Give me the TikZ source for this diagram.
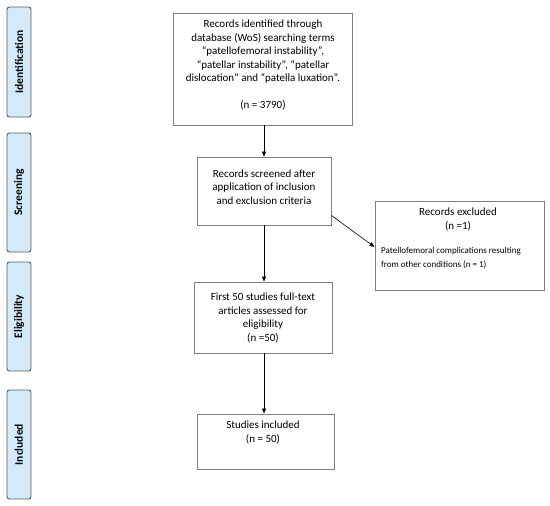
\documentclass[tikz,border=0pt]{standalone}
\usepackage{fontspec}
\setmainfont{Carlito}
\usetikzlibrary{arrows.meta}
\definecolor{sidefill}{HTML}{D3EAFA}
\definecolor{sideline}{HTML}{5A5A5A}
\definecolor{boxline}{HTML}{7F7F7F}
\begin{document}
\begin{tikzpicture}[x=1pt,y=-1pt,
  sidebar/.style={draw=sideline,fill=sidefill,rounded corners=2.5pt,line width=0.9pt,minimum width=24pt,inner sep=0pt},
  sidetext/.style={rotate=90,font=\fontsize{11.5}{13}\selectfont\bfseries,inner sep=0pt},
  flowbox/.style={draw=boxline,line width=0.9pt,inner sep=0pt},
  flowtext/.style={font=\fontsize{11}{13.5}\selectfont,align=center,inner sep=0pt},
  smalltext/.style={font=\fontsize{9}{14}\selectfont,align=left,inner sep=0pt},
  arr/.style={draw=black,line width=0.6pt,-{Triangle[length=5pt,width=4pt]}}]
\useasboundingbox (0,0) rectangle (550,506);
% side bars
\node[sidebar,minimum height=110pt] (s1) at (19,62) {};
\node[sidetext] (t1) at (s1.center) {Identification};
\node[sidebar,minimum height=119pt] (s2) at (19,192.5) {};
\node[sidetext] (t2) at (s2.center) {Screening};
\node[sidebar,minimum height=109pt] (s3) at (19,316.5) {};
\node[sidetext] (t3) at (s3.center) {Eligibility};
\node[sidebar,minimum height=109pt] (s4) at (19,444.5) {};
\node[sidetext] (t4) at (s4.center) {Included};
% boxes
\node[flowbox,minimum width=179pt,minimum height=112pt] (b1) at (262.5,69) {};
\node[flowtext,anchor=north] (b1t) at (263,20) {Records identified through\\database (WoS) searching terms\\“patellofemoral instability”,\\“patellar instability”, “patellar\\dislocation” and “patella luxation”.\\[13.5pt](n = 3790)};
\node[flowbox,minimum width=134pt,minimum height=68pt] (b2) at (264,191) {};
\node[flowtext] (b2t) at (264,187) {Records screened after\\application of inclusion\\and exclusion criteria};
\node[flowbox,minimum width=169pt,minimum height=89pt] (b5) at (459.5,245.5) {};
\node[flowtext,anchor=north] (b5t) at (458,208) {Records excluded\\(n =1)};
\node[smalltext,anchor=north west] (b5s) at (381,247) {Patellofemoral complications resulting\\from other conditions (n = 1)};
\node[flowbox,minimum width=138pt,minimum height=71pt] (b3) at (263,317.5) {};
\node[flowtext] (b3t) at (263,318) {First 50 studies full-text\\articles assessed for\\eligibility\\(n =50)};
\node[flowbox,minimum width=137pt,minimum height=55pt] (b4) at (265.5,441.5) {};
\node[flowtext,anchor=north] (b4t) at (263,421) {Studies included\\(n = 50)};
% connectors
\draw[arr] (b1.south -| b2t.north) -- (b2.north -| b2t.north);
\draw[arr] (b2.south -| b2t.north) -- (b3.north -| b2t.north);
\draw[arr] (b3.south -| b2t.north) -- (b4.north -| b2t.north);
\coordinate (c1) at ([yshift=10pt]b2.south east);
\draw[arr] (c1) -- ([yshift=-1.5pt]b5.west);
\end{tikzpicture}
\end{document}
